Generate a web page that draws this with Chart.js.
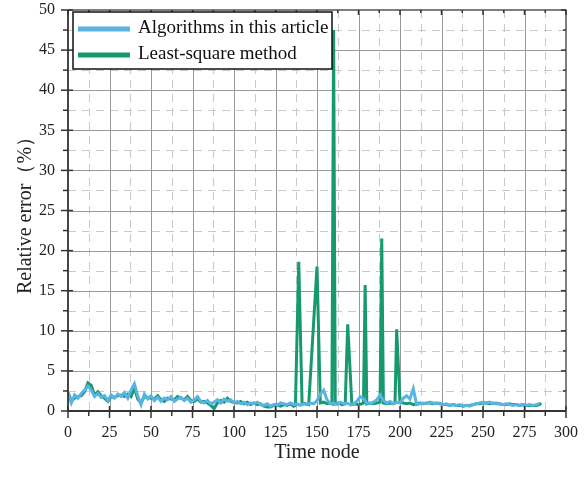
<!DOCTYPE html>
<html>
<head>
<meta charset="utf-8">
<script src="https://cdn.jsdelivr.net/npm/chart.js@4.4.1/dist/chart.umd.min.js"></script>
<style>
  html, body { margin: 0; padding: 0; background: #fff; }
  canvas { display: block; }
</style>
</head>
<body>
<canvas id="chart" width="588" height="479"></canvas>
<script>
// Algorithms in this article: one value every 2 time nodes, starting at node 0
const algStep = 2;
const algValues = [
  2.2, 1.0, 2.0, 1.6, 2.2, 2.6, 3.1, 2.6, 1.8, 2.2, 1.7, 1.9, 1.3, 2.0, 1.6, 2.1, 1.8, 2.3, 1.6, 2.6, 3.4, 1.9, 0.8, 2.1, 1.5, 1.9,
  1.3, 1.7, 1.2, 1.6, 1.4, 1.8, 1.2, 1.5, 1.7, 1.3, 1.6, 1.1, 1.4, 1.8, 1.2, 1.0, 1.3, 0.9, 1.1, 1.4, 1.0, 1.5, 1.2, 1.4, 1.0,
  1.2, 0.9, 1.1, 0.8, 1.0, 0.9, 1.1, 0.8, 0.7, 0.9, 0.6, 0.8, 0.7, 1.0, 0.9, 0.8, 1.0, 0.8, 0.9, 0.7, 0.9, 0.8, 1.0, 0.9, 1.3,
  2.1, 2.6, 1.4, 0.9, 1.0, 0.8, 1.1, 0.9, 1.0, 0.8, 0.9, 1.2, 1.8, 1.5, 1.0, 0.9, 1.1, 1.4, 2.0, 1.3, 1.0, 1.2, 0.9, 1.1, 1.0,
  1.6, 1.9, 1.5, 2.8, 0.8, 0.9, 1.0, 0.9, 1.1, 1.0, 0.9, 1.0, 0.8, 0.9, 0.7, 0.8, 0.7, 0.8, 0.6, 0.7, 0.6, 0.8, 0.9, 1.0, 1.1,
  1.0, 1.1, 0.9, 1.0, 0.9, 0.8, 0.9, 0.8, 0.7, 0.8, 0.7, 0.8, 0.7, 0.8, 0.7, 0.8, 0.9
];

// Least-square method: time nodes and values
const lsNodes = [
  0, 2, 4, 6, 8, 10, 12, 14, 16, 18, 20, 22, 24, 26, 28, 30, 32, 34, 36, 38, 40, 42, 44, 46, 48, 50,
  52, 54, 56, 58, 60, 62, 64, 66, 68, 70, 72, 74, 76, 78, 80, 82, 84, 86, 88, 90, 92, 94, 96, 98, 100,
  102, 104, 106, 108, 110, 112, 114, 116, 118, 120, 122, 124, 126, 128, 130, 132, 134, 136,
  137, 139, 141, 143, 145, 150, 152, 154, 156, 158, 159, 160, 161, 163, 165, 167, 168.5, 171, 173, 175,
  177, 178, 179, 180, 182, 184, 186, 188, 189, 190, 192, 194, 196, 197, 198, 200, 202, 204, 206, 208, 210,
  212, 214, 216, 218, 220, 222, 224, 226, 228, 230, 232, 234, 236, 238, 240, 242, 244, 246, 248, 250,
  252, 254, 256, 258, 260, 262, 264, 266, 268, 270, 272, 274, 276, 278, 280, 282, 284, 285
];
const lsValues = [
  2.3, 1.3, 1.6, 1.8, 1.9, 2.4, 3.5, 3.2, 2.0, 2.4, 1.9, 1.6, 1.2, 1.8, 1.7, 1.9, 2.0, 1.8, 2.1, 1.8, 2.9, 1.5, 1.0, 1.8, 1.7, 1.6,
  1.5, 1.9, 1.4, 1.2, 1.6, 1.5, 1.4, 1.8, 1.6, 1.4, 1.8, 1.3, 1.2, 1.5, 1.1, 1.2, 1.0, 0.7, 0.3, 1.0, 1.3, 1.1, 1.6, 1.2, 1.1,
  1.0, 1.2, 0.9, 1.1, 0.8, 1.0, 0.8, 0.9, 0.6, 0.5, 0.5, 0.7, 0.8, 0.6, 0.8, 0.7, 0.9, 0.6,
  0.7, 18.6, 1.0, 0.9, 0.8, 18.0, 1.0, 1.1, 0.9, 1.0, 0.9, 47.5, 0.9, 1.0, 0.8, 0.9, 10.8, 0.8, 0.9, 0.8,
  0.9, 1.0, 15.7, 0.9, 1.0, 0.9, 1.0, 1.1, 21.5, 1.0, 0.9, 1.0, 0.9, 1.0, 10.2, 1.1, 1.0, 0.9, 1.0, 0.8, 0.9,
  1.0, 0.9, 1.0, 1.0, 0.9, 1.0, 0.9, 0.8, 0.8, 0.7, 0.8, 0.7, 0.7, 0.6, 0.7, 0.7, 0.8, 0.9, 0.9, 1.0,
  1.0, 0.9, 1.0, 0.9, 0.9, 0.8, 0.8, 0.9, 0.8, 0.8, 0.7, 0.8, 0.7, 0.7, 0.7, 0.7, 0.8, 1.0
];

const seriesLabels = ["Algorithms in this article", "Least-square method"];
const seriesColors = ["#5ab4e2", "#16996f"];

const xMax = 300, xMajor = 25;
const yMax = 50, yMajor = 5;

const serif = "'Liberation Serif', 'Times New Roman', serif";

// grid: solid at major steps, dashed at half steps
const gridPlugin = {
  id: "grid",
  beforeDatasetsDraw(chart) {
    const { ctx, chartArea: a, scales: { x, y } } = chart;
    ctx.save();
    ctx.lineWidth = 1;
    ctx.strokeStyle = "#c9c9c9";
    ctx.setLineDash([8, 6]);
    for (let v = xMajor / 2; v < xMax; v += xMajor) {
      const px = Math.round(x.getPixelForValue(v)) + 0.5;
      ctx.beginPath(); ctx.moveTo(px, a.top); ctx.lineTo(px, a.bottom); ctx.stroke();
    }
    for (let v = yMajor / 2; v < yMax; v += yMajor) {
      const py = Math.round(y.getPixelForValue(v)) + 0.5;
      ctx.beginPath(); ctx.moveTo(a.left, py); ctx.lineTo(a.right, py); ctx.stroke();
    }
    ctx.setLineDash([]);
    ctx.strokeStyle = "#999";
    for (let v = xMajor; v < xMax; v += xMajor) {
      const px = Math.round(x.getPixelForValue(v)) + 0.5;
      ctx.beginPath(); ctx.moveTo(px, a.top); ctx.lineTo(px, a.bottom); ctx.stroke();
    }
    for (let v = yMajor; v < yMax; v += yMajor) {
      const py = Math.round(y.getPixelForValue(v)) + 0.5;
      ctx.beginPath(); ctx.moveTo(a.left, py); ctx.lineTo(a.right, py); ctx.stroke();
    }
    ctx.restore();
  },
  afterDatasetsDraw(chart) {
    const { ctx, chartArea: a, scales: { x, y } } = chart;
    ctx.save();
    // frame
    ctx.strokeStyle = "#555";
    ctx.lineWidth = 1.5;
    ctx.beginPath();
    ctx.moveTo(a.left, a.top); ctx.lineTo(a.right, a.top); ctx.lineTo(a.right, a.bottom);
    ctx.stroke();
    ctx.strokeStyle = "#333";
    ctx.lineWidth = 1.8;
    ctx.beginPath();
    ctx.moveTo(a.left, a.top); ctx.lineTo(a.left, a.bottom); ctx.lineTo(a.right, a.bottom);
    ctx.stroke();
    // ticks
    ctx.lineWidth = 1.5;
    for (let v = 0; v <= xMax; v += xMajor / 2) {
      const px = x.getPixelForValue(v);
      const major = v % xMajor === 0;
      ctx.beginPath();
      ctx.moveTo(px, a.bottom - (major ? 5 : 0));
      ctx.lineTo(px, a.bottom + (major ? 7 : 5));
      ctx.stroke();
      ctx.beginPath();
      ctx.moveTo(px, a.top); ctx.lineTo(px, a.top + (major ? 5 : 3));
      ctx.stroke();
    }
    for (let v = 0; v <= yMax; v += yMajor / 2) {
      const py = y.getPixelForValue(v);
      const major = v % yMajor === 0;
      ctx.beginPath();
      ctx.moveTo(a.left - (major ? 7 : 5), py);
      ctx.lineTo(a.left + (major ? 5 : 0), py);
      ctx.stroke();
      ctx.beginPath();
      ctx.moveTo(a.right, py); ctx.lineTo(a.right - (major ? 5 : 3), py);
      ctx.stroke();
    }
    ctx.restore();
  }
};

// boxed legend in the top-left corner
const legendPlugin = {
  id: "boxLegend",
  afterDraw(chart) {
    const { ctx } = chart;
    const left = 73, top = 12, w = 259, h = 57;
    ctx.save();
    ctx.fillStyle = "#fff";
    ctx.fillRect(left, top, w, h);
    ctx.strokeStyle = "#111";
    ctx.lineWidth = 1.5;
    ctx.strokeRect(left, top, w, h);
    ctx.font = "19px " + serif;
    ctx.textBaseline = "middle";
    chart.data.datasets.forEach((ds, i) => {
      const cy = top + 16 + i * 26;
      ctx.strokeStyle = ds.borderColor;
      ctx.lineWidth = 5;
      ctx.beginPath(); ctx.moveTo(left + 5, cy + 1); ctx.lineTo(left + 57, cy + 1); ctx.stroke();
      ctx.fillStyle = "#111";
      ctx.fillText(ds.label, left + 65, cy);
    });
    ctx.restore();
  }
};

const ctx = document.getElementById("chart").getContext("2d");
new Chart(ctx, {
  type: "line",
  data: {
    datasets: [
      {
        label: seriesLabels[0],
        data: algValues.map((v, i) => ({ x: i * algStep, y: v })),
        borderColor: seriesColors[0],
        borderWidth: 3,
        pointRadius: 0,
        tension: 0,
        order: 0,
      },
      {
        label: seriesLabels[1],
        data: lsNodes.map((n, i) => ({ x: n, y: lsValues[i] })),
        borderColor: seriesColors[1],
        borderWidth: 3,
        pointRadius: 0,
        tension: 0,
        order: 1,
      },
    ],
  },
  options: {
    responsive: false,
    animation: false,
    layout: { padding: { top: 10, right: 22, left: 0, bottom: 0 } },
    plugins: {
      legend: { display: false },
      tooltip: { enabled: false },
    },
    scales: {
      x: {
        type: "linear",
        min: 0,
        max: xMax,
        grid: { display: false, drawTicks: false },
        border: { display: false },
        ticks: { stepSize: xMajor, padding: 12, color: "#222", font: { family: serif, size: 16 }, maxRotation: 0 },
        title: { display: true, text: "Time node", color: "#222", font: { family: serif, size: 20 }, padding: { top: 0, bottom: 14 } },
        afterFit(scale) {
          scale.height = 68;
          scale.paddingLeft = 0;
          scale.paddingRight = 0;
        },
      },
      y: {
        type: "linear",
        min: 0,
        max: yMax,
        grid: { display: false, drawTicks: false },
        border: { display: false },
        ticks: { stepSize: yMajor, padding: 13, color: "#222", font: { family: serif, size: 16 } },
        title: { display: true, text: "Relative error（%）", color: "#222", font: { family: serif, size: 20 }, padding: { top: 14, bottom: 0 } },
        afterFit(scale) {
          scale.width = 68;
          scale.paddingTop = 0;
          scale.paddingBottom = 0;
        },
      },
    },
  },
  plugins: [gridPlugin, legendPlugin],
});
</script>
</body>
</html>
